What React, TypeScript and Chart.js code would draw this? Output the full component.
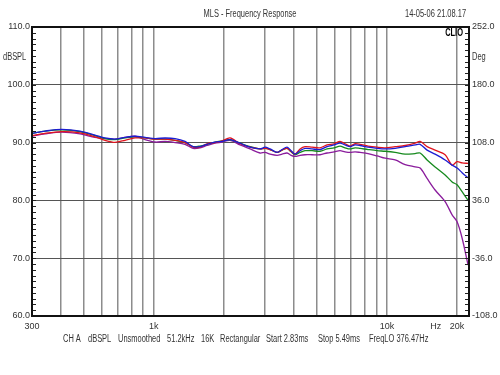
import React, { useEffect, useRef } from 'react';
import { Chart, registerables } from 'chart.js';

Chart.register(...registerables);

// Frequencies (Hz) where the curves were sampled
const FREQS = [
  300, 341, 403, 482, 559, 617, 681, 752, 830, 917,
  1012, 1117, 1233, 1361, 1473, 1578, 1692, 1830, 1962, 2124,
  2343, 2587, 2855, 3000, 3152, 3378, 3549, 3729, 3879, 4035,
  4239, 4454, 4773, 5165, 5535, 5932, 6293, 6612, 6947, 7299,
  7669, 8301, 9074, 9820, 10843, 11971, 13213, 13882, 14873, 16094,
  17770, 19043, 20004, 21013, 22300,
];

const BLUE = [
  91.6, 92.0, 92.3, 92.0, 91.3, 90.8, 90.6, 90.9, 91.1, 90.9,
  90.7, 90.8, 90.7, 90.2, 89.3, 89.3, 89.7, 90.1, 90.2, 90.5,
  89.9, 89.2, 88.9, 89.2, 88.9, 88.3, 88.8, 89.2, 88.6, 88.0,
  88.6, 89.0, 88.9, 88.8, 89.3, 89.6, 89.9, 89.6, 89.3, 89.6,
  89.5, 89.2, 89.0, 88.9, 89.0, 89.3, 89.6, 89.7, 88.7, 88.0,
  87.0, 86.1, 85.6, 84.8, 83.9,
];

const GREEN = [
  91.6, 92.0, 92.2, 91.9, 91.2, 90.7, 90.5, 90.8, 91.0, 90.8,
  90.6, 90.6, 90.4, 90.0, 89.3, 89.4, 89.7, 90.1, 90.3, 90.5,
  89.9, 89.3, 88.9, 89.0, 88.8, 88.3, 88.7, 89.0, 88.4, 87.9,
  88.3, 88.6, 88.6, 88.5, 88.9, 89.1, 89.4, 89.1, 88.9, 89.1,
  89.0, 88.8, 88.6, 88.5, 88.3, 88.0, 88.1, 88.2, 87.0, 85.8,
  84.4, 83.2, 82.7, 81.5, 80.0,
];

const RED = [
  91.2, 91.6, 91.9, 91.7, 91.0, 90.4, 90.05, 90.4, 90.8, 90.8,
  90.6, 90.6, 90.4, 90.0, 89.2, 89.2, 89.8, 90.0, 90.3, 90.8,
  89.8, 89.2, 88.9, 89.0, 88.8, 88.3, 88.7, 89.0, 88.5, 88.0,
  88.9, 89.3, 89.2, 89.1, 89.6, 89.8, 90.2, 89.8, 89.4, 89.8,
  89.7, 89.4, 89.2, 89.1, 89.3, 89.5, 89.9, 90.2, 89.3, 88.7,
  87.9, 86.1, 86.7, 86.5, 86.4,
];

const PURPLE = [
  91.1, 91.5, 91.8, 91.5, 90.9, 90.7, 90.6, 90.9, 91.1, 90.5,
  90.1, 90.2, 90.0, 89.7, 89.0, 89.1, 89.5, 89.9, 90.1, 90.4,
  89.6, 88.9, 88.2, 88.3, 88.0, 87.8, 88.0, 88.2, 87.8, 87.6,
  87.8, 87.9, 87.9, 87.9, 88.2, 88.4, 88.6, 88.4, 88.3, 88.4,
  88.3, 88.1, 87.7, 87.3, 87.0, 86.2, 85.8, 85.6, 83.8, 81.8,
  79.8, 77.5, 76.3, 73.5, 68.8,
];

// Axes
const X_MIN = 300;
const X_MAX = 22500;
const X_GRID = [400, 500, 600, 700, 800, 900, 1000, 2000, 3000, 4000, 5000, 6000, 7000, 8000, 9000, 10000, 20000];
const HZ_FREQ = 16200;
const X_LABELS: Record<number, string> = { 300: '300', 1000: '1k', 10000: '10k', 16200: 'Hz', 20000: '20k' };
const Y_TICKS = [60, 70, 80, 90, 100, 110];
const Y2_TICKS = [-108, -36, 36, 108, 180, 252];

// Texts
const TITLE = 'MLS - Frequency Response';
const DATE = '14-05-06 21.08.17';
const BRAND = 'CLIO';
const LEFT_UNIT = 'dBSPL';
const RIGHT_UNIT = 'Deg';
const FOOTER = ['CH A', 'dBSPL', 'Unsmoothed', '51.2kHz', '16K', 'Rectangular', 'Start 2.83ms', 'Stop 5.49ms', 'FreqLO 376.47Hz'];

const FONT_FAMILY = '"Liberation Sans", Arial, sans-serif';
const TEXT_COLOR = '#333';

function drawText(ctx: CanvasRenderingContext2D, text: string, x: number, y: number, align: CanvasTextAlign, sx: number) {
  ctx.save();
  ctx.translate(x, y);
  ctx.scale(sx, 1);
  ctx.textAlign = align;
  ctx.fillText(text, 0, 0);
  ctx.restore();
}

const decorPlugin = {
  id: 'decor',
  afterDatasetsDraw(chart: any) {
    const { ctx, chartArea } = chart;
    const { left, right, top, bottom } = chartArea;
    const y = chart.scales.y;
    ctx.save();
    ctx.strokeStyle = '#222';
    ctx.lineWidth = 1;
    ctx.beginPath();
    for (let v = 60; v <= 110; v += 1) {
      const py = Math.round(y.getPixelForValue(v)) + 0.5;
      ctx.moveTo(left, py);
      ctx.lineTo(left + 4, py);
      ctx.moveTo(right - 4, py);
      ctx.lineTo(right, py);
    }
    ctx.stroke();
    ctx.strokeStyle = '#111';
    ctx.lineWidth = 2;
    ctx.strokeRect(left, top, right - left, bottom - top);
    ctx.restore();
  },
  afterDraw(chart: any) {
    const { ctx } = chart;
    ctx.save();
    ctx.fillStyle = TEXT_COLOR;
    ctx.textBaseline = 'middle';
    ctx.font = `10px ${FONT_FAMILY}`;
    const sx = 93 / ctx.measureText(TITLE).width;
    drawText(ctx, TITLE, 250, 14, 'center', sx);
    drawText(ctx, DATE, 405, 14, 'left', sx);
    drawText(ctx, LEFT_UNIT, 3, 57, 'left', sx);
    drawText(ctx, RIGHT_UNIT, 472, 57, 'left', sx);
    const fx = [63, 88, 118, 167, 201, 220, 266, 318, 369];
    FOOTER.forEach((t, i) => drawText(ctx, t, fx[i], 339, 'left', sx));
    ctx.font = `bold 10px ${FONT_FAMILY}`;
    ctx.fillStyle = '#000';
    drawText(ctx, BRAND, 463, 33, 'right', sx);
    ctx.restore();
  },
};

export default function App() {
  const ref = useRef<HTMLCanvasElement | null>(null);

  useEffect(() => {
    document.body.style.margin = '0';
    const canvas = ref.current;
    if (!canvas) return;
    const mk = (vals: number[]) => FREQS.map((f, i) => ({ x: f, y: vals[i] }));
    const font = { family: FONT_FAMILY, size: 9 };
    const chart = new Chart(canvas, {
      type: 'line',
      data: {
        datasets: [
          { label: 'blue', data: mk(BLUE), borderColor: '#1c1cd2', borderWidth: 1.3, pointRadius: 0, tension: 0.3 },
          { label: 'red', data: mk(RED), borderColor: '#e0141e', borderWidth: 1.3, pointRadius: 0, tension: 0.3 },
          { label: 'green', data: mk(GREEN), borderColor: '#168a1e', borderWidth: 1.3, pointRadius: 0, tension: 0.3 },
          { label: 'purple', data: mk(PURPLE), borderColor: '#8a1c9c', borderWidth: 1.3, pointRadius: 0, tension: 0.3 },
        ],
      },
      options: {
        responsive: false,
        animation: false,
        events: [],
        layout: { padding: { top: 27, left: 0, right: 0, bottom: 0 } },
        plugins: { legend: { display: false }, tooltip: { enabled: false }, title: { display: false } },
        scales: {
          x: {
            type: 'logarithmic',
            min: X_MIN,
            max: X_MAX,
            afterBuildTicks: (s: any) => {
              s.ticks = [X_MIN, ...X_GRID.slice(0, 16), HZ_FREQ, X_GRID[16]].map((v) => ({ value: v }));
            },
            afterFit: (s: any) => { s.height = 59; },
            ticks: {
              autoSkip: false,
              maxRotation: 0,
              minRotation: 0,
              padding: 5,
              color: TEXT_COLOR,
              font,
              callback: (v: any) => X_LABELS[v as number] ?? '',
            },
            grid: {
              drawTicks: false,
              lineWidth: 1.5,
              color: (c: any) => (c.tick && (c.tick.value === HZ_FREQ || c.tick.value === X_MIN) ? 'rgba(0,0,0,0)' : '#8c8c8c'),
            },
            border: { display: false },
          },
          y: {
            type: 'linear',
            position: 'left',
            min: 60,
            max: 110,
            afterBuildTicks: (s: any) => { s.ticks = Y_TICKS.map((v) => ({ value: v })); },
            afterFit: (s: any) => { s.width = 32; },
            ticks: { padding: 2, color: TEXT_COLOR, font, callback: (v: any) => Number(v).toFixed(1) },
            grid: { drawTicks: false, lineWidth: 1, color: '#555' },
            border: { display: false },
          },
          y1: {
            type: 'linear',
            position: 'right',
            min: -108,
            max: 252,
            afterBuildTicks: (s: any) => { s.ticks = Y2_TICKS.map((v) => ({ value: v })); },
            afterFit: (s: any) => { s.width = 31; },
            ticks: { padding: 3, color: TEXT_COLOR, font, callback: (v: any) => Number(v).toFixed(1) },
            grid: { display: false, drawTicks: false },
            border: { display: false },
          },
        },
      },
      plugins: [decorPlugin],
    } as any);
    return () => chart.destroy();
  }, []);

  return (
    <div style={{ position: 'absolute', left: 0, top: 0, width: 500, height: 375, background: '#fff' }}>
      <canvas ref={ref} width={500} height={375} style={{ display: 'block', width: 500, height: 375 }} />
    </div>
  );
}
